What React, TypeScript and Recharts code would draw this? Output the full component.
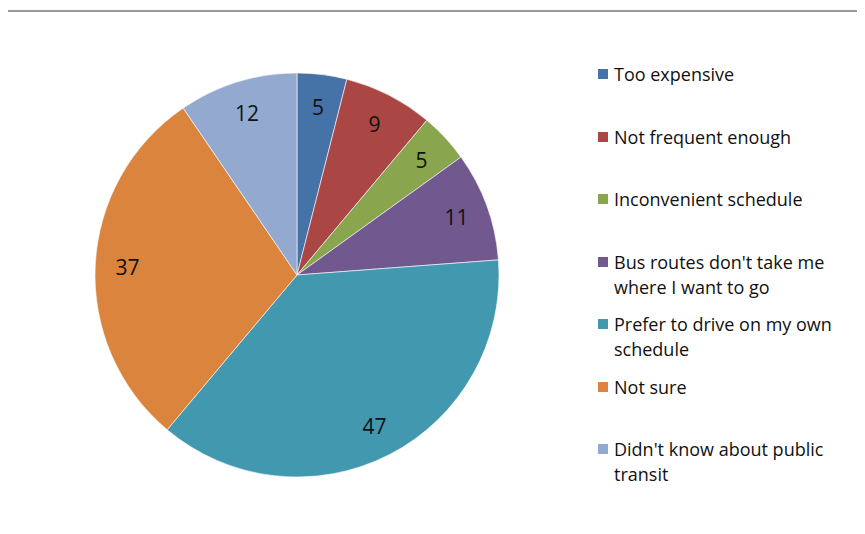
import { Cell, Legend, Pie, PieChart } from 'recharts'

const REASONS = [
  'Too expensive',
  'Not frequent enough',
  'Inconvenient schedule',
  "Bus routes don't take me where I want to go",
  'Prefer to drive on my own schedule',
  'Not sure',
  "Didn't know about public transit",
]

// legend text as wrapped in the original
const LEGEND_LINES = [
  ['Too expensive'],
  ['Not frequent enough'],
  ['Inconvenient schedule'],
  ["Bus routes don't take me", 'where I want to go'],
  ['Prefer to drive on my own', 'schedule'],
  ['Not sure'],
  ["Didn't know about public", 'transit'],
]

const COUNTS = [5, 9, 5, 11, 47, 37, 12]

const COLORS = ['#4572a7', '#aa4643', '#89a54e', '#71588f', '#4198af', '#db843d', '#93a9cf']

const FONT = '"Open Sans", "Noto Sans", sans-serif'

const data = REASONS.map((name, i) => ({ name, value: COUNTS[i] }))

const RAD = Math.PI / 180

function renderLabel(props: any) {
  const { cx, cy, midAngle, outerRadius, value } = props
  const r = outerRadius * 0.84
  const x = cx + r * Math.cos(-midAngle * RAD)
  const y = cy + r * Math.sin(-midAngle * RAD)
  return (
    <text
      x={x}
      y={y}
      fill="#111"
      fontSize={21}
      fontFamily={FONT}
      textAnchor="middle"
      dominantBaseline="central"
    >
      {value}
    </text>
  )
}

function LegendBox() {
  return (
    <div style={{ fontFamily: FONT, fontSize: 18, color: '#111' }}>
      {LEGEND_LINES.map((lines, i) => (
        <div key={i} style={{ height: 63.5, position: 'relative' }}>
          <span
            style={{
              position: 'absolute',
              left: 0,
              top: 7,
              width: 10,
              height: 10,
              background: COLORS[i],
            }}
          />
          <div style={{ marginLeft: 16, lineHeight: '25px', marginTop: -1 }}>
            {lines.map((l) => (
              <div key={l} style={{ whiteSpace: 'nowrap' }}>
                {l}
              </div>
            ))}
          </div>
        </div>
      ))}
    </div>
  )
}

export default function App() {
  return (
    <div style={{ position: 'relative', width: 857, height: 526, background: '#fff' }}>
      <div
        style={{
          position: 'absolute',
          left: -8,
          right: -8,
          top: 2,
          height: 2,
          background: '#999999',
        }}
      />
      <PieChart width={857} height={526} margin={{ top: 0, right: 0, bottom: 0, left: 0 }}>
        <Pie
          data={data}
          dataKey="value"
          nameKey="name"
          cx={289}
          cy={267}
          outerRadius={202}
          startAngle={90}
          endAngle={-270}
          stroke="#ffffff"
          strokeWidth={0.6}
          label={renderLabel}
          labelLine={false}
          isAnimationActive={false}
        >
          {data.map((d, i) => (
            <Cell key={d.name} fill={COLORS[i]} />
          ))}
        </Pie>
        <Legend
          layout="vertical"
          content={() => <LegendBox />}
          wrapperStyle={{ left: 590, top: 55, width: 270 }}
        />
      </PieChart>
    </div>
  )
}
